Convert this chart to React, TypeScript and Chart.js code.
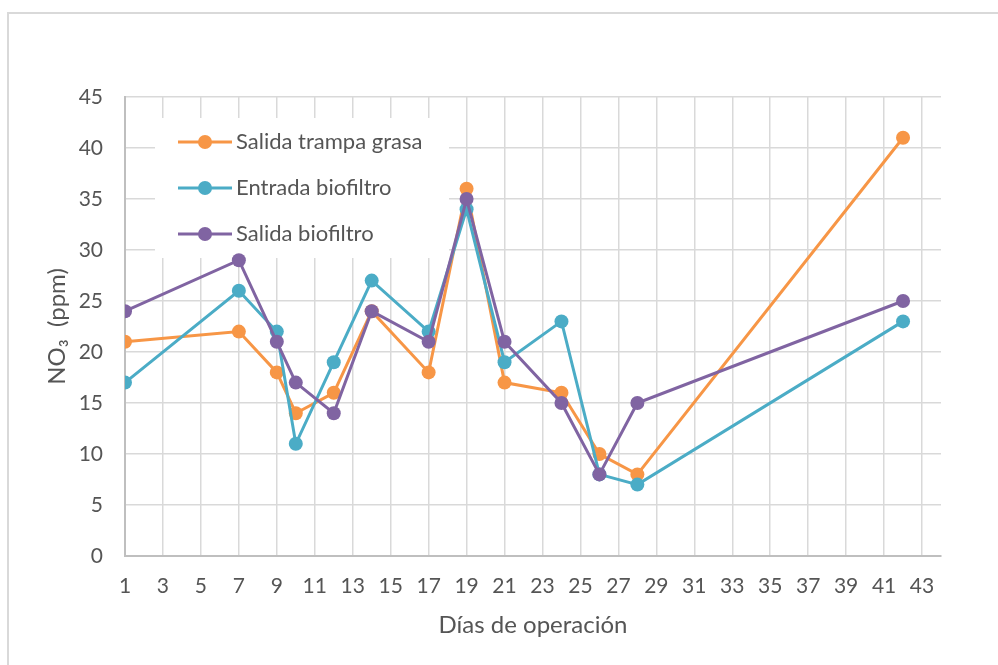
import React, { useEffect, useRef } from "react";
import { Chart, registerables } from "chart.js";

Chart.register(...registerables);

const days = [1, 7, 9, 10, 12, 14, 17, 19, 21, 24, 26, 28, 42];
const salidaTrampaGrasa = [21, 22, 18, 14, 16, 24, 18, 36, 17, 16, 10, 8, 41];
const entradaBiofiltro = [17, 26, 22, 11, 19, 27, 22, 34, 19, 23, 8, 7, 23];
const salidaBiofiltro = [24, 29, 21, 17, 14, 24, 21, 35, 21, 15, 8, 15, 25];
const seriesNames = ["Salida trampa grasa", "Entrada biofiltro", "Salida biofiltro"];
const seriesColors = ["#F79646", "#4BACC6", "#8064A2"];
const xTickValues = [1, 3, 5, 7, 9, 11, 13, 15, 17, 19, 21, 23, 25, 27, 29, 31, 33, 35, 37, 39, 41, 43];
const yTickValues = [0, 5, 10, 15, 20, 25, 30, 35, 40, 45];
const xTitle = "Días de operación";
const yTitle = "NO₃  (ppm)";

const FONT = "Lato, 'Open Sans', sans-serif";
const TEXT = "#555555";

const framePlugin = {
  id: "frame",
  beforeDraw(chart: any) {
    const ctx = chart.ctx;
    ctx.save();
    ctx.fillStyle = "#ffffff";
    ctx.fillRect(0, 0, chart.width, chart.height);
    ctx.strokeStyle = "#d9d9d9";
    ctx.lineWidth = 2;
    ctx.beginPath();
    ctx.moveTo(8, chart.height + 5);
    ctx.lineTo(8, 13);
    ctx.lineTo(chart.width + 5, 13);
    ctx.stroke();
    ctx.restore();
  },
};

const insideLegend = {
  id: "insideLegend",
  beforeDatasetsDraw(chart: any) {
    const ctx = chart.ctx;
    const a = chart.chartArea;
    const bx = a.left + 30;
    const by = a.top + 21;
    ctx.save();
    ctx.fillStyle = "#ffffff";
    ctx.fillRect(bx, by, 294, 140);
    chart.data.datasets.forEach((ds: any, i: number) => {
      const y = by + 24 + i * 46;
      ctx.strokeStyle = ds.borderColor;
      ctx.lineWidth = 3;
      ctx.beginPath();
      ctx.moveTo(bx + 23, y);
      ctx.lineTo(bx + 77, y);
      ctx.stroke();
      ctx.fillStyle = ds.borderColor;
      ctx.beginPath();
      ctx.arc(bx + 50, y, 7, 0, Math.PI * 2);
      ctx.fill();
      ctx.fillStyle = TEXT;
      ctx.font = `22px ${FONT}`;
      ctx.textBaseline = "middle";
      ctx.textAlign = "left";
      ctx.fillText(ds.label, bx + 81, y);
    });
    ctx.restore();
  },
};

export default function App() {
  const ref = useRef<HTMLCanvasElement>(null);
  useEffect(() => {
    if (!ref.current) return;
    const seriesValues = [salidaTrampaGrasa, entradaBiofiltro, salidaBiofiltro];
    const orders = [2, 1, 0];
    const chart = new Chart(ref.current, {
      type: "line",
      data: {
        datasets: seriesValues.map((vals, i) => ({
          label: seriesNames[i],
          data: days.map((d, j) => ({ x: d, y: vals[j] })),
          borderColor: seriesColors[i],
          backgroundColor: seriesColors[i],
          pointBackgroundColor: seriesColors[i],
          pointBorderColor: seriesColors[i],
          pointRadius: 7,
          pointBorderWidth: 0,
          borderWidth: 3,
          tension: 0,
          fill: false,
          order: orders[i],
        })),
      },
      options: {
        responsive: false,
        animation: false,
        devicePixelRatio: 1,
        layout: { padding: { left: 0, top: 97, right: 57, bottom: 0 } },
        plugins: {
          legend: { display: false },
          tooltip: { enabled: false },
        },
        scales: {
          x: {
            type: "linear",
            min: 1,
            max: 44,
            afterBuildTicks: (scale: any) => {
              scale.ticks = xTickValues.map((v) => ({ value: v }));
            },
            afterFit: (scale: any) => {
              scale.height = 109;
            },
            ticks: {
              autoSkip: false,
              maxRotation: 0,
              padding: 18,
              color: TEXT,
              font: { family: FONT, size: 21 },
              callback: (v: any) => String(v),
            },
            grid: { color: "#d9d9d9", lineWidth: 1.5, drawTicks: false },
            border: { display: true, color: "#bfbfbf", width: 2 },
            title: {
              display: true,
              text: xTitle,
              color: TEXT,
              font: { family: FONT, size: 24 },
              padding: { top: 0, bottom: 25 },
            },
          },
          y: {
            type: "linear",
            min: 0,
            max: 45,
            afterBuildTicks: (scale: any) => {
              scale.ticks = yTickValues.map((v) => ({ value: v }));
            },
            afterFit: (scale: any) => {
              scale.width = 125;
            },
            ticks: {
              padding: 22,
              color: TEXT,
              font: { family: FONT, size: 21 },
              callback: (v: any) => String(v),
            },
            grid: { color: "#d9d9d9", lineWidth: 1.5, drawTicks: false },
            border: { display: true, color: "#bfbfbf", width: 2 },
            title: {
              display: true,
              text: yTitle,
              color: TEXT,
              font: { family: FONT, size: 24 },
              padding: { top: 43, bottom: 0 },
            },
          },
        },
      },
      plugins: [framePlugin, insideLegend],
    } as any);
    return () => chart.destroy();
  }, []);
  return (
    <div style={{ position: "fixed", left: 0, top: 0, width: 998, height: 665 }}>
      <canvas ref={ref} width={998} height={665} style={{ width: 998, height: 665 }} />
    </div>
  );
}
